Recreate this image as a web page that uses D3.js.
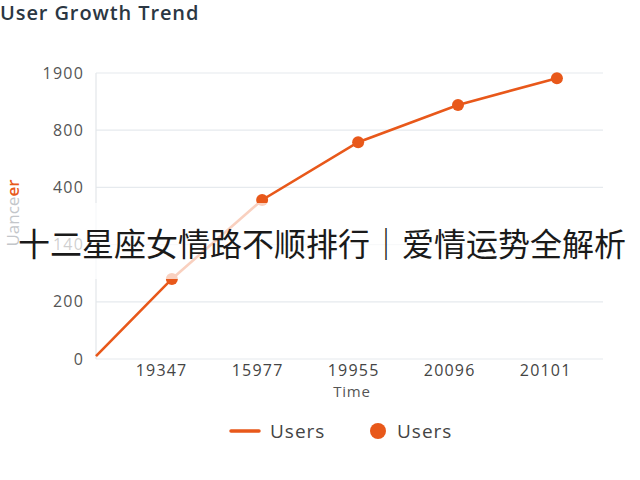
<!DOCTYPE html>
<html>
<head>
<meta charset="utf-8">
<script src="https://cdn.jsdelivr.net/npm/d3@7"></script>
<style>
  body { margin: 0; background: #fff; }
  svg { display: block; }
</style>
</head>
<body>
<div id="chart"></div>
<script>
// data
const timeLabels = ["19347", "15977", "19955", "20096", "20101"]
const yTickLabels = ["0", "200", "140", "400", "800", "1900"]
// y values in tick-row units (0 = "0" row, 5 = "1900" row), the axis is not linear
const userLevel = [0.05, 1.4, 2.78, 3.79, 4.44, 4.91]
// x positions in tick units, first one is the origin on the y axis
const timePos = [-0.73, 0.06, 1.0, 2.0, 3.04, 4.07]

const w = 640
const h = 480
const orange = "#e8581a"
const font = "'Open Sans', Roboto, sans-serif"

const svg = d3.select("#chart")
  .append("svg")
  .attr("width", w)
  .attr("height", h)

const x = d3.scaleLinear()
  .domain([-0.73, 4.55])
  .range([96, 603])

const y = d3.scaleLinear()
  .domain([0, 5])
  .range([359, 73])

// title
svg.append("text")
  .attr("x", 0)
  .attr("y", 20)
  .attr("font-family", font)
  .attr("font-size", 20)
  .attr("font-weight", 600)
  .attr("letter-spacing", 0.9)
  .attr("fill", "#2b3743")
  .text("User Growth Trend")

// grid
svg.append("g")
  .selectAll("line")
  .data(d3.range(yTickLabels.length))
  .join("line")
  .attr("x1", x(-0.73))
  .attr("x2", x(4.55))
  .attr("y1", d => y(d))
  .attr("y2", d => y(d))
  .attr("stroke", "#e6eaee")
  .attr("stroke-width", 1.2)

svg.append("line")
  .attr("x1", x(-0.73)).attr("x2", x(-0.73))
  .attr("y1", y(5)).attr("y2", y(0))
  .attr("stroke", "#e3e6ea")
  .attr("stroke-width", 1.2)

// y axis
const yAxis = d3.axisLeft(y)
  .tickValues(d3.range(yTickLabels.length))
  .tickFormat(i => yTickLabels[i])
  .tickSize(0)
  .tickPadding(12)

svg.append("g")
  .attr("transform", `translate(${x(-0.73)},0)`)
  .call(yAxis)
  .call(g => g.select(".domain").remove())
  .selectAll("text")
  .attr("font-family", font)
  .attr("font-size", 16)
  .attr("letter-spacing", 1.2)
  .attr("fill", "#555")

// x axis
const xAxis = d3.axisBottom(x)
  .tickValues(d3.range(timeLabels.length))
  .tickFormat(i => timeLabels[i])
  .tickSize(0)
  .tickPadding(6)

svg.append("g")
  .attr("transform", `translate(0,${y(0)})`)
  .call(xAxis)
  .call(g => g.select(".domain").remove())
  .selectAll("text")
  .attr("dx", -5)
  .attr("font-family", font)
  .attr("font-size", 16)
  .attr("fill", "#444")
  .attr("letter-spacing", 1.2)

svg.append("text")
  .attr("x", 352)
  .attr("y", 397)
  .attr("text-anchor", "middle")
  .attr("font-family", font)
  .attr("font-size", 15)
  .attr("letter-spacing", 0.8)
  .attr("fill", "#555")
  .text("Time")

// line + markers
const pts = timePos.map((t, i) => ({ t, v: userLevel[i] }))

const line = d3.line()
  .x(d => x(d.t))
  .y(d => y(d.v))

svg.append("path")
  .datum(pts)
  .attr("d", line)
  .attr("fill", "none")
  .attr("stroke", orange)
  .attr("stroke-width", 2.6)

svg.selectAll(".dot")
  .data(pts.slice(1))
  .join("circle")
  .attr("class", "dot")
  .attr("cx", d => x(d.t))
  .attr("cy", d => y(d.v))
  .attr("r", 6)
  .attr("fill", orange)

// white band with the overlay caption
svg.append("rect")
  .attr("x", 0)
  .attr("y", 203)
  .attr("width", w)
  .attr("height", 76)
  .attr("fill", "#fff")
  .attr("opacity", 0.72)

// y label
const yl = svg.append("text")
  .attr("transform", "translate(19,213) rotate(-90)")
  .attr("text-anchor", "middle")
  .attr("font-family", font)
  .attr("font-size", 17)
  .attr("fill", "#c3c6ca")
yl.append("tspan").text("Uance")
yl.append("tspan").attr("fill", orange).attr("font-weight", 600).text("er")

svg.append("text")
  .attr("x", 322)
  .attr("y", 256)
  .attr("text-anchor", "middle")
  .attr("font-family", "'Noto Sans CJK SC', sans-serif")
  .attr("font-size", 32)
  .attr("fill", "#1a1a1a")
  .text("十二星座女情路不顺排行｜爱情运势全解析")

// legend
const leg = svg.append("g")
  .attr("font-family", font)
  .attr("font-size", 19)
  .attr("letter-spacing", 1)
  .attr("fill", "#444")

leg.append("line")
  .attr("x1", 231).attr("x2", 259)
  .attr("y1", 431).attr("y2", 431)
  .attr("stroke", orange)
  .attr("stroke-width", 3.5)
  .attr("stroke-linecap", "round")

leg.append("text").attr("x", 270).attr("y", 438).text("Users")

leg.append("circle")
  .attr("cx", 378).attr("cy", 431)
  .attr("r", 8)
  .attr("fill", orange)

leg.append("text").attr("x", 397).attr("y", 438).text("Users")
</script>
</body>
</html>
